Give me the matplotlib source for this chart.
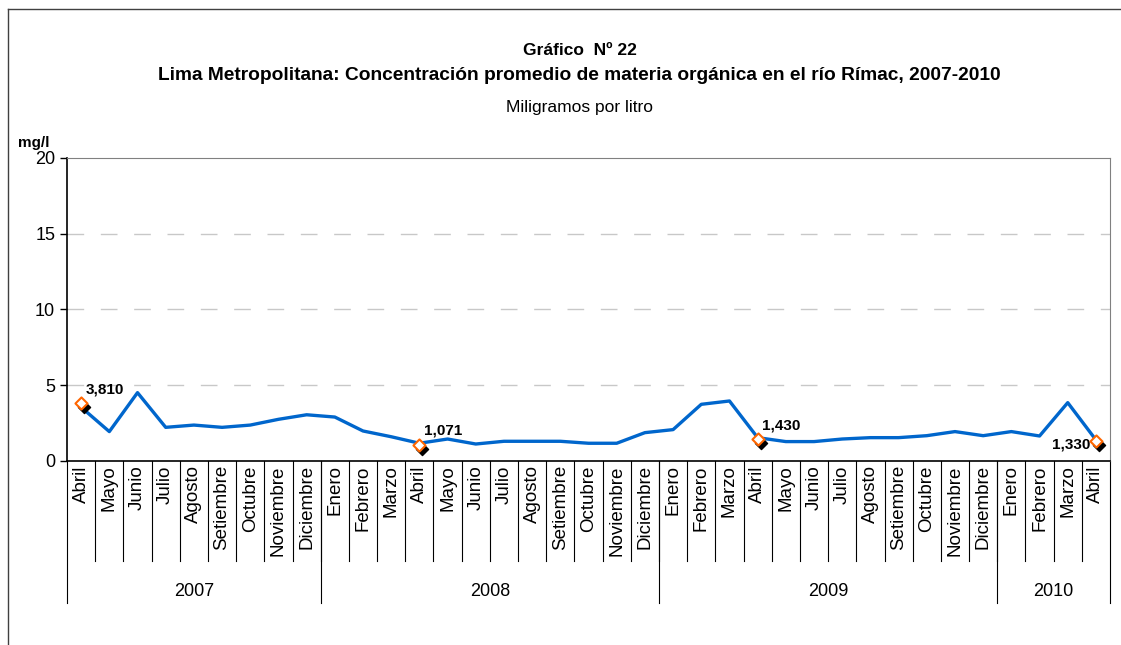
import matplotlib.pyplot as plt
from matplotlib import transforms
from matplotlib.lines import Line2D

plt.rcParams['font.family'] = ['Liberation Sans Narrow', 'Liberation Sans', 'DejaVu Sans']

# monthly series, Abril 2007 - Abril 2010
months = ['Abril', 'Mayo', 'Junio', 'Julio', 'Agosto', 'Setiembre', 'Octubre', 'Noviembre', 'Diciembre',
          'Enero', 'Febrero', 'Marzo', 'Abril', 'Mayo', 'Junio', 'Julio', 'Agosto', 'Setiembre', 'Octubre',
          'Noviembre', 'Diciembre',
          'Enero', 'Febrero', 'Marzo', 'Abril', 'Mayo', 'Junio', 'Julio', 'Agosto', 'Setiembre', 'Octubre',
          'Noviembre', 'Diciembre',
          'Enero', 'Febrero', 'Marzo', 'Abril']
values = [3.55, 1.94, 4.51, 2.22, 2.37, 2.22, 2.37, 2.75, 3.05,
          2.9, 1.98, 1.6, 1.17, 1.45, 1.12, 1.3, 1.3, 1.3, 1.17, 1.17, 1.87,
          2.07, 3.74, 3.96, 1.54, 1.28, 1.28, 1.45, 1.54, 1.54, 1.67, 1.94, 1.67,
          1.94, 1.65, 3.85, 1.39]
years = ['2007', '2008', '2009', '2010']
year_counts = [9, 12, 12, 4]

# highlighted April values
label_idx = [0, 12, 24, 36]
label_vals = [3.810, 1.071, 1.430, 1.330]
label_txt = ['3,810', '1,071', '1,430', '1,330']

fig = plt.figure(figsize=(11.21, 6.45), dpi=100)
ax = fig.add_axes([0.0598, 0.2853, 0.9304, 0.4698])

x = list(range(len(months)))
ax.plot(x, values, color='#0066CC', lw=2.4, zorder=3)

# black shadow diamond + orange hollow diamond
shadow = transforms.offset_copy(ax.transData, fig=fig, x=3, y=-4, units='dots')
ax.scatter(label_idx, label_vals, marker='D', s=38, color='black', transform=shadow, zorder=4)
ax.scatter(label_idx, label_vals, marker='D', s=38, facecolor='white', edgecolor='#FF6600',
           linewidths=1.5, zorder=5)
for i, v, t in zip(label_idx, label_vals, label_txt):
    if i == len(months) - 1:
        ax.annotate(t, (i, v), xytext=(-4, -3), textcoords='offset points', ha='right', va='center',
                    fontsize=11, fontweight='bold')
    else:
        ax.annotate(t, (i, v), xytext=(3, 5), textcoords='offset points', ha='left', va='bottom',
                    fontsize=11, fontweight='bold')

ax.set_xlim(-0.5, len(months) - 0.5)
ax.set_ylim(0, 20)
ax.set_yticks([0, 5, 10, 15, 20])
ax.tick_params(axis='y', labelsize=13, length=5, direction='out', width=1)
for g in [5, 10, 15]:
    ax.axhline(g, color='#C8C8C8', lw=1, dashes=(12, 12), zorder=1)

ax.set_xticks(x)
ax.set_xticklabels(months, rotation=90, fontsize=13.5, va='top')
ax.tick_params(axis='x', length=0, pad=3)

ax.spines['top'].set_color('#808080')
ax.spines['right'].set_color('#808080')
ax.spines['left'].set_color('black')
ax.spines['bottom'].set_color('black')
ax.spines['left'].set_linewidth(1.2)
ax.spines['bottom'].set_linewidth(1.2)

# category separators below the axis
trans = transforms.blended_transform_factory(ax.transData, ax.transAxes)
for b in range(1, len(months)):
    ax.add_line(Line2D([b - 0.5, b - 0.5], [0, -0.33], transform=trans, color='black', lw=0.8,
                       clip_on=False))
start = 0
for yr, n in zip(years, year_counts):
    ax.add_line(Line2D([start - 0.5, start - 0.5], [0, -0.47], transform=trans, color='black',
                       lw=0.8, clip_on=False))
    ax.text(start + (n - 1) / 2, -0.43, yr, transform=trans, ha='center', va='center', fontsize=13)
    start += n
ax.add_line(Line2D([start - 0.5, start - 0.5], [0, -0.47], transform=trans, color='black', lw=0.8,
                   clip_on=False))

fig.text(0.517, 0.922, 'Gráfico  Nº 22', ha='center', va='center', fontsize=12.5, fontweight='bold')
fig.text(0.517, 0.883, 'Lima Metropolitana: Concentración promedio de materia orgánica en el río Rímac, 2007-2010',
         ha='center', va='center', fontsize=13.8, fontweight='bold')
fig.text(0.517, 0.834, 'Miligramos por litro', ha='center', va='center', fontsize=12.5)
fig.text(0.03, 0.779, 'mg/l', ha='center', va='center', fontsize=11, fontweight='bold')

# outer frame (left and top)
fig.add_artist(Line2D([8 / 1121, 8 / 1121], [0, 1 - 9 / 645], transform=fig.transFigure,
                      color='#404040', lw=1))
fig.add_artist(Line2D([8 / 1121, 1], [1 - 9 / 645, 1 - 9 / 645], transform=fig.transFigure,
                      color='#404040', lw=1))

fig.savefig('out.png', dpi=100)
